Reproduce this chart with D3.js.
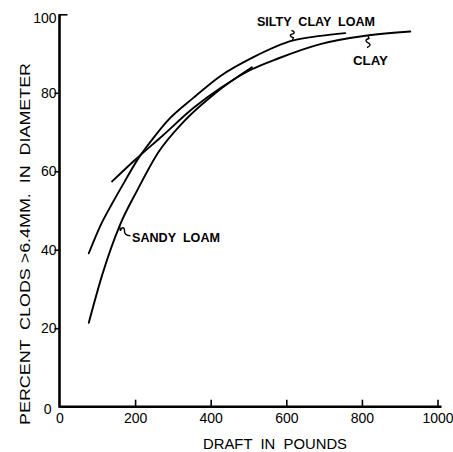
<!DOCTYPE html>
<html><head><meta charset="utf-8">
<script src="https://cdn.jsdelivr.net/npm/d3@7"></script>
<style>body{margin:0;background:#fff}svg{display:block}text{white-space:pre}</style>
</head><body><svg id="c" width="453" height="452"></svg>
<script>
// ---- data ----
const xTicks = [0, 200, 400, 600, 800, 1000];
const yTicks = [0, 20, 40, 60, 80, 100];
const seriesNames = ["SILTY  CLAY  LOAM", "CLAY", "SANDY  LOAM"];
const siltyDraft = [77.5, 108, 140, 172, 206, 246, 285, 354, 426, 513, 616, 690, 756];
const siltyPct   = [39.1, 46.1, 51.9, 57.3, 62.9, 68.2, 72.8, 78.7, 84.3, 89.1, 93.3, 94.5, 95.2];
const clayDraft  = [139, 201, 272, 354, 426, 505, 580, 690, 814, 928];
const clayPct    = [57.4, 63.0, 69.0, 76.1, 81.2, 85.8, 88.8, 92.4, 94.6, 95.6];
const sandyDraft = [77.5, 113, 159, 206, 262, 328, 412, 509];
const sandyPct   = [21.4, 33.6, 46.1, 55.2, 64.9, 72.6, 79.9, 86.5];
const xTitle = "DRAFT  IN  POUNDS";
const yTitle = "PERCENT  CLODS >6.4MM.  IN  DIAMETER";

// ---- drawing ----
const svg = d3.select("#c");
const x = d3.scaleLinear().domain([0, 1000]).range([59.5, 437.5]);
const y = d3.scaleLinear().domain([0, 100]).range([406.7, 14.3]);
const FONT = "'Liberation Sans', Arial, sans-serif";

// curves
const line = d3.line().x(d => x(d[0])).y(d => y(d[1])).curve(d3.curveMonotoneX);
const series = [
  d3.zip(siltyDraft, siltyPct),
  d3.zip(clayDraft, clayPct),
  d3.zip(sandyDraft, sandyPct)
];
svg.append("g").selectAll("path").data(series).join("path")
  .attr("d", line).attr("fill", "none").attr("stroke", "#000")
  .attr("stroke-width", 1.9).attr("stroke-linecap", "round");

// axes
const gx = svg.append("g").attr("transform", `translate(0,${y(0)})`)
  .call(d3.axisTop(x).tickValues(xTicks).tickSize(7).tickFormat(d3.format("d")));
gx.select(".domain").remove();
gx.selectAll(".tick line").attr("stroke", "#000").attr("stroke-width", 1.6)
  .filter(d => d === 0).remove();
gx.selectAll(".tick text").attr("y", 16).attr("dy", "0")
  .attr("font-family", FONT).attr("font-size", 14).attr("fill", "#000");

const gy = svg.append("g").attr("transform", `translate(${x(0)},0)`)
  .call(d3.axisLeft(y).tickValues(yTicks).tickSize(5).tickFormat(d3.format("d")));
gy.select(".domain").remove();
gy.selectAll(".tick line").attr("stroke", "#000").attr("stroke-width", 1.6);
gy.selectAll(".tick").filter(d => d === 100).select("line").attr("x2", 8);
gy.selectAll(".tick").filter(d => d === 0).select("line").remove();
gy.selectAll(".tick text").attr("x", -3).attr("font-family", FONT).attr("font-size", 14).attr("fill", "#000");
gy.selectAll(".tick").filter(d => d === 0).select("text").attr("x", -8).attr("dy", "0.45em");
gy.selectAll(".tick").filter(d => d === 100).select("text").attr("dy", "0.6em");

// axis lines
svg.append("line").attr("x1", x(0)).attr("x2", x(1000) + 4).attr("y1", y(0)).attr("y2", y(0))
  .attr("stroke", "#000").attr("stroke-width", 2.6);
svg.append("line").attr("x1", x(0)).attr("x2", x(0)).attr("y1", y(0) + 1).attr("y2", y(100))
  .attr("stroke", "#000").attr("stroke-width", 2.6);

// axis titles
svg.append("text").attr("x", 275).attr("y", 449).attr("text-anchor", "middle")
  .attr("font-family", FONT).attr("font-size", 15).attr("fill", "#000")
  .attr("textLength", 144).attr("lengthAdjust", "spacingAndGlyphs").text(xTitle);
svg.append("text").attr("transform", "translate(30,244) rotate(-90)").attr("text-anchor", "middle")
  .attr("font-family", FONT).attr("font-size", 15).attr("fill", "#000")
  .attr("textLength", 362).attr("lengthAdjust", "spacingAndGlyphs").text(yTitle);

// series labels with squiggle leaders
const lab = (tx, ty, len, s) => svg.append("text").attr("x", tx).attr("y", ty)
  .attr("font-family", FONT).attr("font-size", 12).attr("font-weight", "bold").attr("fill", "#000")
  .attr("textLength", len).attr("lengthAdjust", "spacingAndGlyphs").text(s);
lab(257, 26, 118, seriesNames[0]);
lab(353, 65, 35, seriesNames[1]);
lab(132, 242, 88, seriesNames[2]);

const sq = svg.append("g").attr("fill", "none").attr("stroke", "#000").attr("stroke-width", 1.4);
// silty: from curve up to label
let px = x(616), py = y(93.3);
sq.append("path").attr("d", `M${px},${py} l1,-3 c-4,-1 -4,-3 0,-4 c2,-1 0,-3 -2,-3`);
// clay: from curve down to label
px = x(816); py = y(94.6);
sq.append("path").attr("d", `M${px},${py} l1,3 c-4,1 -4,3 0,5 c2,1 1,3 -2,4`);
// sandy: from curve to label
px = x(158.6); py = y(46.1);
sq.append("path").attr("d", `M${px},${py} l1,5 c1,-4 4,-4 4,0 c0,3 2,5 6,5`);
</script></body></html>
